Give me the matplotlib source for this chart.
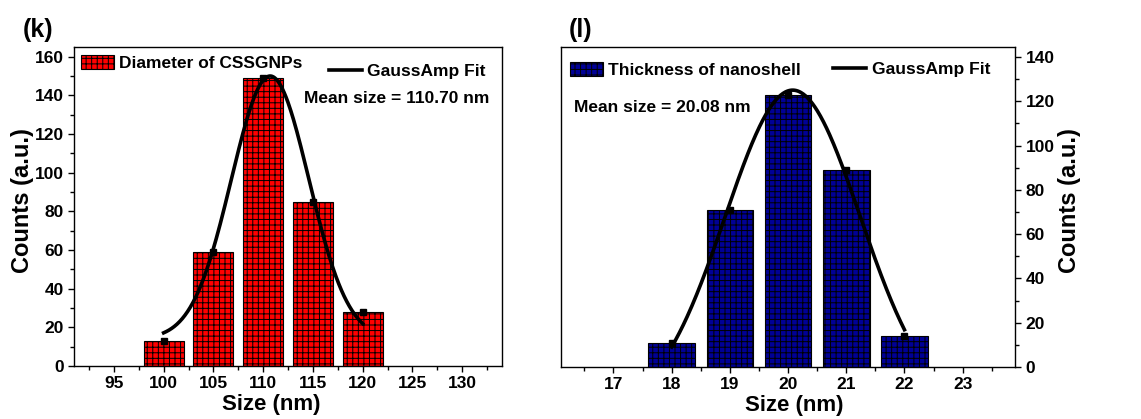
import matplotlib
matplotlib.use("Agg")
import matplotlib.pyplot as plt
import numpy as np
from matplotlib.patches import Patch
from matplotlib.lines import Line2D

plt.rcParams['font.family'] = ['Liberation Sans', 'DejaVu Sans']
plt.rcParams['font.weight'] = 'bold'
plt.rcParams['hatch.linewidth'] = 0.7

# ---- Data: panel (k) ----
k_sizes = [100, 105, 110, 115, 120]
k_counts = [13, 59, 149, 85, 28]
k_fit_y0, k_fit_A, k_fit_xc, k_fit_w = 14.0, 136.0, 110.70, 3.9
k_xticks = [95, 100, 105, 110, 115, 120, 125, 130]
k_yticks = [0, 20, 40, 60, 80, 100, 120, 140, 160]

# ---- Data: panel (l) ----
l_sizes = [18, 19, 20, 21, 22]
l_counts = [11, 71, 123, 89, 14]
l_fit_y0, l_fit_A, l_fit_xc, l_fit_w = -20.0, 145.0, 20.08, 1.16
l_xticks = [17, 18, 19, 20, 21, 22, 23]
l_yticks = [0, 20, 40, 60, 80, 100, 120, 140]


def gauss_amp(x, y0, A, xc, w):
    return y0 + A * np.exp(-(x - xc) ** 2 / (2 * w ** 2))


fig = plt.figure(figsize=(11.41, 4.19), dpi=100)
ax1 = fig.add_axes([0.0649, 0.1265, 0.3751, 0.7613])
ax2 = fig.add_axes([0.4917, 0.124, 0.3979, 0.764])

red = '#FF0000'
blue = '#000096'
TICK_FS = 12.5


def style_axis(ax):
    for s in ax.spines.values():
        s.set_linewidth(1.0)
    ax.tick_params(axis='both', which='major', direction='out', length=4,
                   width=1, labelsize=TICK_FS)
    ax.tick_params(axis='both', which='minor', direction='out', length=3, width=1)
    for lab in ax.get_xticklabels() + ax.get_yticklabels():
        lab.set_fontweight('bold')


# ---- Panel (k) ----
ax1.bar(k_sizes, k_counts, width=4, color=red, edgecolor='black',
        linewidth=0.8, hatch='+++', zorder=2)
ax1.plot(k_sizes, k_counts, 's', color='black', markersize=5, zorder=3)
xk = np.linspace(k_sizes[0], k_sizes[-1], 300)
ax1.plot(xk, gauss_amp(xk, k_fit_y0, k_fit_A, k_fit_xc, k_fit_w),
         color='black', lw=2.6, zorder=4)
ax1.set_xlim(91, 134)
ax1.set_ylim(0, 165)
ax1.set_xticks(k_xticks)
ax1.set_yticks(k_yticks)
ax1.set_xticks(np.arange(92.5, 134, 5), minor=True)
ax1.set_yticks(np.arange(10, 165, 20), minor=True)
style_axis(ax1)
ax1.set_xlabel('Size (nm)', fontsize=16, fontweight='bold')
ax1.xaxis.label.set_va('center')
ax1.xaxis.set_label_coords(0.46, -0.122)
ax1.set_ylabel('Counts (a.u.)', fontsize=17, fontweight='bold')
ax1.yaxis.label.set_va('center')
ax1.yaxis.set_label_coords(-0.121, 0.52)
leg1a = ax1.legend(handles=[Patch(facecolor=red, edgecolor='black', hatch='+++', lw=0.8)],
                   labels=['Diameter of CSSGNPs'], loc='upper left',
                   bbox_to_anchor=(-0.012, 1.012), frameon=False,
                   handlelength=1.9, handleheight=0.8, handletextpad=0.3,
                   borderaxespad=0.3, prop={'weight': 'bold', 'size': 12.5})
ax1.add_artist(leg1a)
ax1.legend(handles=[Line2D([0], [0], color='black', lw=2.6)],
           labels=['GaussAmp Fit'], loc='upper left',
           bbox_to_anchor=(0.567, 0.985), frameon=False,
           handlelength=1.9, handletextpad=0.3, borderaxespad=0.3,
           prop={'weight': 'bold', 'size': 12.5})
ax1.text(0.970, 0.84, 'Mean size = 110.70 nm', transform=ax1.transAxes,
         ha='right', va='center', fontsize=12.5, fontweight='bold')
fig.text(0.020, 0.928, '(k)', fontsize=18, fontweight='bold', va='center')

# ---- Panel (l) ----
ax2.bar(l_sizes, l_counts, width=0.8, color=blue, edgecolor='black',
        linewidth=0.8, hatch='+++', zorder=2)
ax2.plot(l_sizes, l_counts, 's', color='black', markersize=5, zorder=3)
xl = np.linspace(l_sizes[0], l_sizes[-1], 300)
ax2.plot(xl, gauss_amp(xl, l_fit_y0, l_fit_A, l_fit_xc, l_fit_w),
         color='black', lw=2.6, zorder=4)
ax2.set_xlim(16.1, 23.9)
ax2.set_ylim(0, 144.5)
ax2.set_xticks(l_xticks)
ax2.set_yticks(l_yticks)
ax2.set_xticks(np.arange(16.5, 23.9, 1), minor=True)
ax2.set_yticks(np.arange(10, 144, 20), minor=True)
ax2.yaxis.tick_right()
ax2.yaxis.set_label_position('right')
style_axis(ax2)
ax2.set_xlabel('Size (nm)', fontsize=16, fontweight='bold')
ax2.xaxis.label.set_va('center')
ax2.xaxis.set_label_coords(0.513, -0.12)
ax2.set_ylabel('Counts (a.u.)', fontsize=17, fontweight='bold')
ax2.yaxis.label.set_va('center')
ax2.yaxis.set_label_coords(1.121, 0.52)
leg2a = ax2.legend(handles=[Patch(facecolor=blue, edgecolor='black', hatch='+++', lw=0.8)],
                   labels=['Thickness of nanoshell'], loc='upper left',
                   bbox_to_anchor=(-0.008, 0.99), frameon=False,
                   handlelength=1.9, handleheight=0.8, handletextpad=0.3,
                   borderaxespad=0.3, prop={'weight': 'bold', 'size': 12.5})
ax2.add_artist(leg2a)
ax2.legend(handles=[Line2D([0], [0], color='black', lw=2.6)],
           labels=['GaussAmp Fit'], loc='upper left',
           bbox_to_anchor=(0.573, 0.99), frameon=False,
           handlelength=1.9, handletextpad=0.3, borderaxespad=0.3,
           prop={'weight': 'bold', 'size': 12.5})
ax2.text(0.028, 0.81, 'Mean size = 20.08 nm', transform=ax2.transAxes,
         ha='left', va='center', fontsize=12.5, fontweight='bold')
fig.text(0.4985, 0.928, '(l)', fontsize=18, fontweight='bold', va='center')

fig.savefig('out.png', dpi=100)
